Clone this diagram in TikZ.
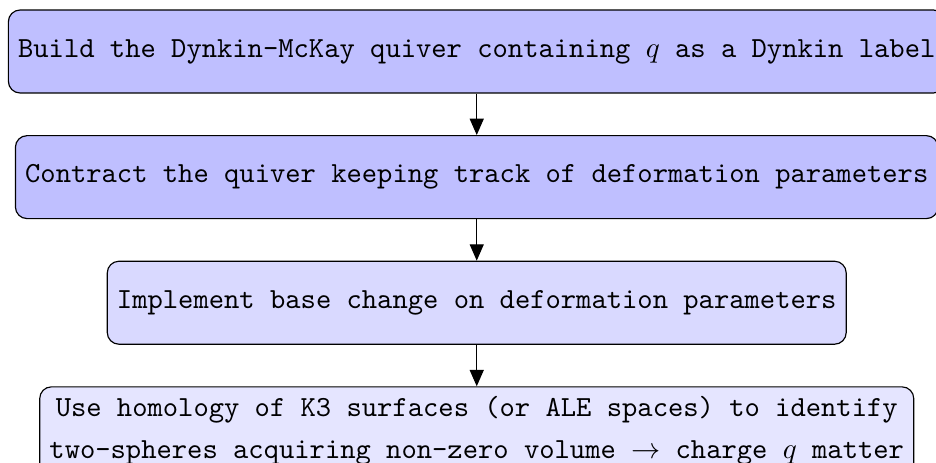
\documentclass[tikz,border=0pt]{standalone}
\usepackage{tikz}
\usetikzlibrary{arrows.meta, positioning}

\begin{document}
\begin{tikzpicture}[
    stepnode/.style={rectangle, rounded corners, draw=black, minimum height=1cm, align=center, font=\ttfamily},
    arrow/.style={-{Triangle[length=5.6pt, width=4.8pt]}},
    node distance=0.5cm
]
\useasboundingbox (-163.5pt,-141.1pt) rectangle (157.5pt,17.66pt);

% Steps
\node[stepnode, fill=blue!25] (build) at (0,0) {Build the Dynkin-McKay quiver containing $q$ as a Dynkin label};
\node[stepnode, fill=blue!25, below=of build] (contract) {Contract the quiver keeping track of deformation parameters};
\node[stepnode, fill=blue!15, below=of contract] (basechange) {Implement base change on deformation parameters};
\node[stepnode, fill=blue!10, below=of basechange] (homology) {Use homology of K3 surfaces (or ALE spaces) to identify\\[2.4pt]two-spheres acquiring non-zero volume $\rightarrow$ charge $q$ matter};

% Connections
\draw[arrow] (build) -- (contract);
\draw[arrow] (contract) -- (basechange);
\draw[arrow] (basechange) -- (homology);

\end{tikzpicture}
\end{document}
